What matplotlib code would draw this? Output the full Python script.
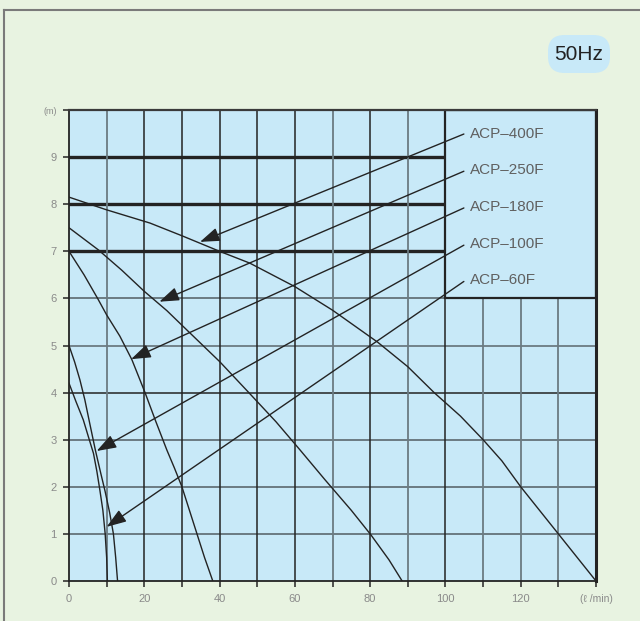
import matplotlib.pyplot as plt
from matplotlib.patches import Rectangle, FancyBboxPatch, FancyArrowPatch
from matplotlib.lines import Line2D

plt.rcParams['font.family'] = ['Liberation Sans', 'DejaVu Sans']

# pump curves: flow (l/min) -> head (m)
models = ['ACP\u2013400F', 'ACP\u2013250F', 'ACP\u2013180F', 'ACP\u2013100F', 'ACP\u201360F']
q_400 = [0, 10, 21.5, 30, 40, 48, 60, 70, 82, 90, 97, 104, 110, 115, 120, 125, 130, 135, 140]
h_400 = [8.15, 7.88, 7.6, 7.33, 7.0, 6.75, 6.25, 5.75, 5.07, 4.55, 4.0, 3.5, 3.0, 2.55, 2.0, 1.5, 1.0, 0.5, 0]
q_250 = [0, 7.8, 14, 20, 26, 31.3, 40, 48, 55, 61.4, 68, 75, 80.2, 85, 88.5]
h_250 = [7.5, 7.03, 6.6, 6.15, 5.74, 5.33, 4.66, 3.98, 3.38, 2.78, 2.15, 1.5, 0.98, 0.45, 0]
q_180 = [0, 4, 7.6, 10, 13.5, 16.7, 20.2, 23, 26, 28, 30, 32, 34, 36, 38.2]
h_180 = [7.0, 6.5, 6.0, 5.65, 5.2, 4.7, 4.0, 3.4, 2.78, 2.4, 2.0, 1.5, 1.0, 0.5, 0]
q_100 = [0, 1.5, 2.9, 4.2, 5.5, 7.0, 8.4, 9.6, 10.8, 11.8, 12.4, 12.9]
h_100 = [5.0, 4.65, 4.27, 3.85, 3.35, 2.78, 2.3, 1.9, 1.45, 1.0, 0.5, 0]
q_60 = [0, 1.8, 3.8, 5.2, 6.5, 7.4, 8.2, 9.0, 9.6, 10.0, 10.2]
h_60 = [4.2, 3.82, 3.42, 3.05, 2.71, 2.33, 1.93, 1.5, 1.01, 0.5, 0]
curves_q = [q_400, q_250, q_180, q_100, q_60]
curves_h = [h_400, h_250, h_180, h_100, h_60]

# label rows (head value of each label) and arrow tips on the curves
label_q = 106.6
label_h = [9.5, 8.73, 7.93, 7.15, 6.39]
tail_q = 104.9
tail_h = [9.49, 8.7, 7.92, 7.13, 6.36]
tip_q = [34.8, 24.0, 16.5, 7.35, 10.0]
tip_h = [7.2, 5.93, 4.71, 2.76, 1.15]

x_ticks = list(range(0, 150, 10))
x_labels = ['0', '', '20', '', '40', '', '60', '', '80', '', '100', '', '120', '', '(\u2113 /min)']
y_ticks = list(range(0, 11))
y_labels = [str(i) for i in range(10)] + ['(m)']

bg = '#e8f3e1'
plot_bg = '#c8e9f8'
dark = '#232323'
grey = '#6b7b82'

fig = plt.figure(figsize=(6.4, 6.21), dpi=100, facecolor=bg)

# outer frame (top and left edges visible)
fig.add_artist(Line2D([4 / 640, 4 / 640], [0, 1 - 10 / 621], transform=fig.transFigure,
                      color='#7a7a7a', lw=1.5))
fig.add_artist(Line2D([4 / 640, 1], [1 - 10 / 621, 1 - 10 / 621], transform=fig.transFigure,
                      color='#7a7a7a', lw=1.5))

ax = fig.add_axes([69 / 640, 40 / 621, 527 / 640, 471 / 621])
ax.set_facecolor(plot_bg)
ax.set_xlim(0, 140)
ax.set_ylim(0, 10)

# grid
h_style = {1: (grey, 1.4), 2: (grey, 1.4), 3: (grey, 1.4), 4: (dark, 1.1), 5: (grey, 1.3),
           6: (grey, 1.4), 7: (dark, 2.4), 8: (dark, 2.4), 9: (dark, 2.4)}
for y, (c, lw) in h_style.items():
    ax.axhline(y, color=c, lw=lw, zorder=1)
v_style = {10: grey, 20: dark, 30: dark, 40: dark, 50: dark, 60: dark, 70: grey, 80: dark,
           90: grey, 100: dark, 110: grey, 120: grey, 130: grey}
for x, c in v_style.items():
    ax.axvline(x, color=c, lw=1.1 if c == dark else 1.3, zorder=1)

# legend box covering the top right
ax.add_patch(Rectangle((100, 6), 40, 4, facecolor=plot_bg, edgecolor=dark, lw=1.6, zorder=2))

for q, h in zip(curves_q, curves_h):
    ax.plot(q, h, color=dark, lw=1.0, zorder=3)

for name, ly, th, tq, tp in zip(models, label_h, tail_h, tip_q, tip_h):
    ax.text(label_q, ly, name, fontsize=11, color='#606060', va='center', ha='left', zorder=5)
    ax.add_patch(FancyArrowPatch((tail_q, th), (tq, tp), arrowstyle='-|>,head_length=1.0,head_width=0.35',
                                 mutation_scale=12, color=dark, lw=1.0, shrinkA=0, shrinkB=0, zorder=4))

for s in ['left', 'bottom']:
    ax.spines[s].set_color(dark)
    ax.spines[s].set_linewidth(1.3)
ax.spines['top'].set_color('#3a3a3a')
ax.spines['top'].set_linewidth(1.6)
ax.spines['right'].set_color(dark)
ax.spines['right'].set_linewidth(2.2)

ax.set_xticks(x_ticks)
ax.set_xticklabels(x_labels)
ax.set_yticks(y_ticks)
ax.set_yticklabels(y_labels)
ax.tick_params(axis='both', length=4, width=1.1, color=dark, labelsize=8, labelcolor='#8a8a8a', pad=5)
ax.get_yticklabels()[-1].set_fontsize(6.5)
ax.get_xticklabels()[-1].set_fontsize(7.5)

# 50Hz badge
fig.add_artist(FancyBboxPatch((548 / 640, 1 - 73 / 621), 62 / 640, 38 / 621,
                              boxstyle='round,pad=0,rounding_size=0.026',
                              transform=fig.transFigure, facecolor=plot_bg, edgecolor='none'))
fig.text(579 / 640, 1 - 55 / 621, '50Hz', fontsize=15, color='#222222', ha='center', va='center')

fig.savefig('out.png', dpi=100, facecolor=bg)
